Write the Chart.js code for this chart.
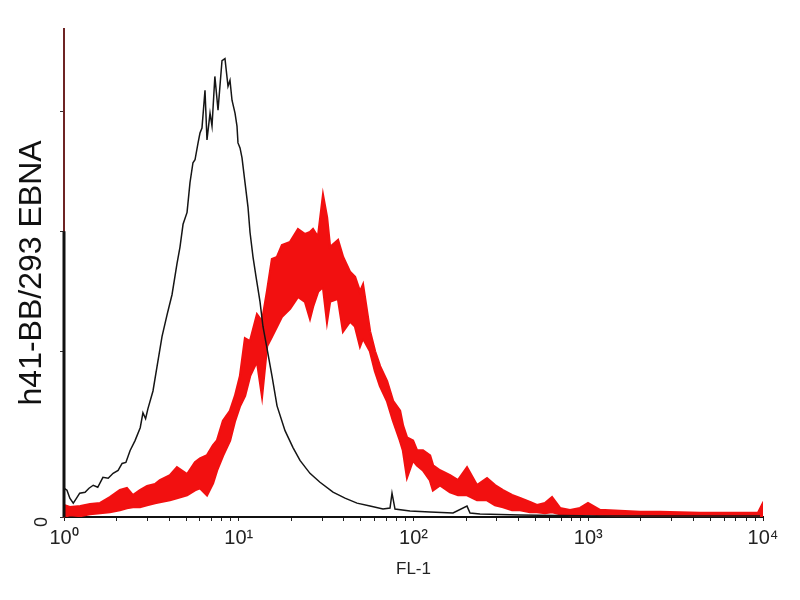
<!DOCTYPE html>
<html>
<head>
<meta charset="utf-8">
<title>h41-BB/293 EBNA FL-1 histogram</title>
<script src="https://cdn.jsdelivr.net/npm/chart.js@4.4.1/dist/chart.umd.min.js"></script>
<style>
  html, body { margin: 0; padding: 0; background: #fff; }
  #wrap { width: 800px; height: 600px; }
</style>
</head>
<body>
<div id="wrap"><canvas id="histo" width="800" height="600"></canvas></div>
<script>
/* FL-1 histogram: isotype control (black) vs stained cells (red) */
(function () {
  'use strict';

  // x axis: FL-1 intensity (log), tick labels per decade
  var xMajor = [1, 10, 100, 1000, 10000];
  var xTickLabels = ['10\u2070', '10\u00b9', '10\u00b2', '10\u00b3', '10\u2074'];
  // y axis: counts, tick marks only ("0" is the only label)
  var yTicks = [0, 167, 288, 409];
  var yMax = 492;

  // black (control) trace
  var blackX = [1.00, 1.04, 1.08, 1.13, 1.17, 1.23, 1.32, 1.39, 1.47, 1.56, 1.67, 1.79, 1.91, 2.04, 2.15, 2.26,
    2.39, 2.55, 2.73, 2.83, 2.93, 3.02, 3.23, 3.41, 3.64, 3.89, 4.15, 4.43, 4.61, 4.80, 5.06, 5.26, 5.47,
    5.62, 5.85, 6.00, 6.16, 6.41, 6.58, 6.85, 7.03, 7.30, 7.61, 8.02, 8.34, 8.68, 8.91, 9.15, 9.52, 9.77,
    9.90, 10.17, 10.44, 10.86, 11.30, 11.60, 12.07, 12.56, 13.23, 13.76, 14.51, 15.50, 16.56, 18.40, 20.44,
    22.41, 25.56, 29.17, 34.62, 40.55, 47.51, 56.37, 66.91, 73.38, 75.34, 78.37, 95.5, 124.3, 168.3, 202.4,
    210.6, 240.2, 406.9, 1167, 4361, 9612];
  var blackY = [29, 27, 19, 14, 18, 24, 25, 29, 32, 30, 40, 39, 44, 47, 54, 55,
    67, 77, 90, 105, 99, 109, 127, 152, 182, 204, 224, 255, 272, 295, 307, 337, 357,
    360, 377, 387, 392, 430, 380, 407, 394, 444, 410, 460, 462, 434, 440, 420, 407, 394,
    377, 372, 362, 337, 312, 287, 262, 242, 217, 192, 170, 142, 112, 87, 70,
    57, 44, 35, 25, 19, 14, 11, 8, 9, 24, 8, 6, 5, 4, 11,
    4, 3, 2, 1, 1, 1];

  // red (stained) trace: upper and lower edge of the noisy band
  var redX = [1.00, 1.08, 1.24, 1.41, 1.61, 1.83, 2.09, 2.29, 2.48, 2.72, 2.99, 3.32, 3.54, 4.04, 4.43, 5.06,
    5.62, 6.00, 6.58, 7.12, 7.51, 8.13, 8.91, 9.52, 10.17, 10.86, 11.60, 12.72, 13.59, 14.51, 15.50, 16.56,
    17.68, 19.65, 21.83, 23.94, 25.56, 26.60, 28.41, 30.35, 31.99, 33.29, 36.98, 39.52, 43.32, 46.27, 49.41,
    51.40, 56.37, 60.21, 64.31, 70.53, 76.33, 83.70, 87.07, 91.80, 99.3, 104.7, 113.3, 124.3, 129.3, 141.8,
    161.8, 179.8, 202.4, 230.9, 263.4, 292.7, 325.3, 366.2, 406.9, 464.2, 509.0, 565.6, 620.3, 689.0, 786.3,
    897.3, 996.8, 1167, 1520, 1978, 2574, 4361, 7387, 9363, 9869, 10000];
  var redUpper = [12, 10, 11, 13, 14, 20, 27, 29, 22, 27, 31, 33, 37, 42, 50, 43,
    55, 59, 62, 72, 77, 97, 107, 122, 142, 180, 177, 204, 197, 227, 260, 262,
    274, 277, 290, 285, 287, 290, 282, 324, 302, 272, 279, 262, 247, 242, 227,
    234, 187, 167, 152, 137, 117, 107, 92, 80, 77, 67, 67, 62, 52, 47,
    42, 37, 50, 32, 39, 32, 27, 22, 19, 15, 12, 14, 20, 9, 7,
    9, 14, 7, 6, 5, 5, 4, 4, 4, 12, 1];
  var redLower = [0, 2, 1, 3, 4, 5, 7, 9, 10, 10, 12, 14, 15, 17, 19, 22,
    27, 29, 22, 34, 47, 62, 77, 97, 112, 122, 142, 157, 122, 172, 182, 192,
    202, 210, 222, 217, 200, 212, 227, 232, 197, 217, 220, 187, 197, 192, 172,
    180, 167, 147, 132, 117, 97, 77, 67, 40, 57, 52, 47, 37, 27, 32,
    25, 22, 22, 17, 17, 12, 10, 7, 7, 5, 5, 4, 5, 3, 2,
    2, 3, 2, 1, 1, 1, 1, 1, 1, 1, 0];

  function pts(xs, ys) {
    return xs.map(function (x, i) { return { x: x, y: ys[i] }; });
  }

  // minor log ticks 2..9 in every decade
  var xTickValues = [];
  xMajor.forEach(function (m, i) {
    xTickValues.push(m);
    if (i < xMajor.length - 1) {
      for (var k = 2; k <= 9; k++) xTickValues.push(m * k);
    }
  });

  var axisTint = {
    id: 'axisTint',
    afterDraw: function (chart) {
      var ys = chart.scales.y, ctx = chart.ctx;
      var x = chart.chartArea.left;
      ctx.save();
      ctx.strokeStyle = '#111';
      ctx.lineWidth = 3;
      ctx.beginPath();
      ctx.moveTo(x, ys.getPixelForValue(yTicks[2]));
      ctx.lineTo(x, ys.getPixelForValue(0));
      ctx.stroke();
      ctx.restore();
    }
  };

  new Chart(document.getElementById('histo').getContext('2d'), {
    type: 'line',
    data: {
      datasets: [
        {
          label: 'control',
          data: pts(blackX, blackY),
          borderColor: '#151515',
          borderWidth: 1.5,
          pointRadius: 0,
          tension: 0,
          fill: false
        },
        {
          label: 'h41-BB',
          data: pts(redX, redUpper),
          borderColor: '#f21010',
          backgroundColor: '#f21010',
          borderWidth: 2.4,
          pointRadius: 0,
          tension: 0,
          fill: '+1'
        },
        {
          label: 'h41-BB lower',
          data: pts(redX, redLower),
          borderColor: '#f21010',
          borderWidth: 2.4,
          pointRadius: 0,
          tension: 0,
          fill: false
        }
      ]
    },
    options: {
      responsive: false,
      animation: false,
      layout: { padding: { top: 25, right: 37, left: 0, bottom: 0 } },
      plugins: {
        legend: { display: false },
        tooltip: { enabled: false }
      },
      scales: {
        x: {
          type: 'logarithmic',
          min: 1, max: 10000,
          afterBuildTicks: function (s) { s.ticks = xTickValues.map(function (v) { return { value: v }; }); },
          afterFit: function (s) { s.height = 83; },
          grid: { drawOnChartArea: false, tickLength: 4, color: '#222', lineWidth: 1 },
          border: { color: '#111', width: 2 },
          ticks: {
            autoSkip: false, maxRotation: 0, padding: 5,
            color: '#222',
            font: { family: 'Liberation Sans, Arial, sans-serif', size: 20 },
            callback: function (v) {
              var i = xMajor.indexOf(v);
              return i >= 0 ? xTickLabels[i] : '';
            }
          },
          title: {
            display: true, text: 'FL-1', color: '#222',
            font: { family: 'Liberation Sans, Arial, sans-serif', size: 17 },
            padding: { top: 0, bottom: 20 }
          }
        },
        y: {
          min: 0, max: yMax,
          afterBuildTicks: function (s) { s.ticks = yTicks.map(function (v) { return { value: v }; }); },
          afterFit: function (s) { s.width = 64; },
          grid: { drawOnChartArea: false, tickLength: 4, color: '#333' },
          border: { color: '#6e2424', width: 2 },
          ticks: {
            padding: 18, minRotation: 90, maxRotation: 90,
            color: '#222',
            font: { family: 'Liberation Sans, Arial, sans-serif', size: 18 },
            callback: function (v) { return v === 0 ? '0' : ''; }
          },
          title: {
            display: true, text: 'h41-BB/293 EBNA', color: '#111',
            font: { family: 'Liberation Sans, Arial, sans-serif', size: 32 },
            padding: { top: 13, bottom: 0 }
          }
        }
      }
    },
    plugins: [axisTint]
  });
})();
</script>
</body>
</html>
